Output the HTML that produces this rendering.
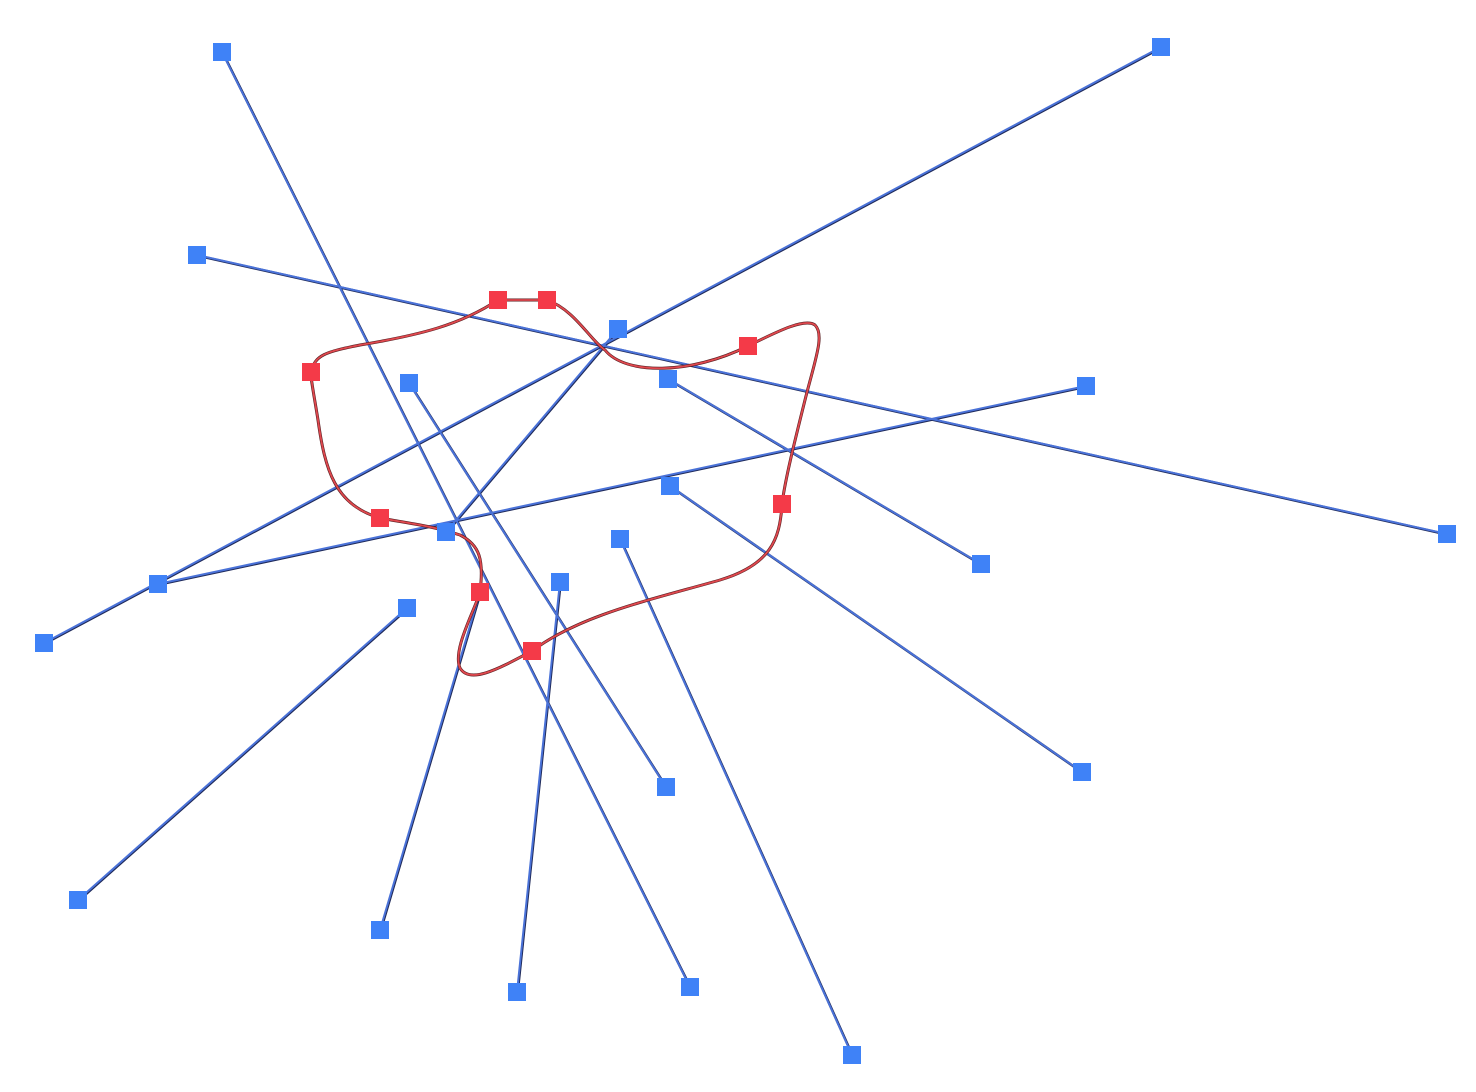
<!DOCTYPE html>
<html><head><meta charset="utf-8"><style>html,body{margin:0;padding:0;background:#fff}svg{display:block}</style></head>
<body>
<svg width="1476" height="1092" viewBox="0 0 1476 1092" xmlns="http://www.w3.org/2000/svg">
<g fill="none" stroke-linecap="round">
<g stroke="#1f2a5a" stroke-width="2.6" transform="translate(0.6,0.6)">
<line x1="222" y1="52" x2="690" y2="987"/>
<line x1="1161" y1="47" x2="44" y2="643"/>
<line x1="197" y1="255" x2="1447" y2="534"/>
<line x1="618" y1="329" x2="446" y2="532"/>
<line x1="668" y1="379" x2="981" y2="564"/>
<line x1="1086" y1="386" x2="158" y2="584"/>
<line x1="409" y1="383" x2="666" y2="787"/>
<line x1="670" y1="486" x2="1082" y2="772"/>
<line x1="620" y1="539" x2="852" y2="1055"/>
<line x1="560" y1="582" x2="517" y2="992"/>
<line x1="407" y1="608" x2="78" y2="900"/>
<line x1="380" y1="930" x2="480" y2="592"/>
</g>
<g stroke="#4a72d8" stroke-width="2">
<line x1="222" y1="52" x2="690" y2="987"/>
<line x1="1161" y1="47" x2="44" y2="643"/>
<line x1="197" y1="255" x2="1447" y2="534"/>
<line x1="618" y1="329" x2="446" y2="532"/>
<line x1="668" y1="379" x2="981" y2="564"/>
<line x1="1086" y1="386" x2="158" y2="584"/>
<line x1="409" y1="383" x2="666" y2="787"/>
<line x1="670" y1="486" x2="1082" y2="772"/>
<line x1="620" y1="539" x2="852" y2="1055"/>
<line x1="560" y1="582" x2="517" y2="992"/>
<line x1="407" y1="608" x2="78" y2="900"/>
<line x1="380" y1="930" x2="480" y2="592"/>
</g>
<path d="M498,300 L547,300 C575,310 590,340 605,350 C625,375 690,375 748,346 C780,330 805,318 815,325 C825,335 815,360 805,400 C795,440 785,480 782,504 C780,540 770,565 720,580 C650,600 580,615 532,651 C500,668 470,685 460,668 C452,650 475,610 480,592 C484,560 480,545 460,535 C430,525 400,522 380,518 C335,505 325,470 318,420 C314,395 310,375 311,372 C315,355 325,352 360,345 C420,335 460,325 498,300 Z" stroke="#5a1f22" stroke-width="3"/>
<path d="M498,300 L547,300 C575,310 590,340 605,350 C625,375 690,375 748,346 C780,330 805,318 815,325 C825,335 815,360 805,400 C795,440 785,480 782,504 C780,540 770,565 720,580 C650,600 580,615 532,651 C500,668 470,685 460,668 C452,650 475,610 480,592 C484,560 480,545 460,535 C430,525 400,522 380,518 C335,505 325,470 318,420 C314,395 310,375 311,372 C315,355 325,352 360,345 C420,335 460,325 498,300 Z" stroke="#e0484e" stroke-width="1.8"/>
</g>
<g fill="#3f82f7">
<rect x="213" y="43" width="18" height="18"/>
<rect x="1152" y="38" width="18" height="18"/>
<rect x="188" y="246" width="18" height="18"/>
<rect x="609" y="320" width="18" height="18"/>
<rect x="659" y="370" width="18" height="18"/>
<rect x="400" y="374" width="18" height="18"/>
<rect x="1077" y="377" width="18" height="18"/>
<rect x="661" y="477" width="18" height="18"/>
<rect x="437" y="523" width="18" height="18"/>
<rect x="1438" y="525" width="18" height="18"/>
<rect x="611" y="530" width="18" height="18"/>
<rect x="972" y="555" width="18" height="18"/>
<rect x="551" y="573" width="18" height="18"/>
<rect x="149" y="575" width="18" height="18"/>
<rect x="398" y="599" width="18" height="18"/>
<rect x="35" y="634" width="18" height="18"/>
<rect x="1073" y="763" width="18" height="18"/>
<rect x="657" y="778" width="18" height="18"/>
<rect x="69" y="891" width="18" height="18"/>
<rect x="371" y="921" width="18" height="18"/>
<rect x="681" y="978" width="18" height="18"/>
<rect x="508" y="983" width="18" height="18"/>
<rect x="843" y="1046" width="18" height="18"/>
</g>
<g fill="#f43a48">
<rect x="489" y="291" width="18" height="18"/>
<rect x="538" y="291" width="18" height="18"/>
<rect x="739" y="337" width="18" height="18"/>
<rect x="302" y="363" width="18" height="18"/>
<rect x="773" y="495" width="18" height="18"/>
<rect x="371" y="509" width="18" height="18"/>
<rect x="471" y="583" width="18" height="18"/>
<rect x="523" y="642" width="18" height="18"/>
</g>
</svg>
</body></html>
